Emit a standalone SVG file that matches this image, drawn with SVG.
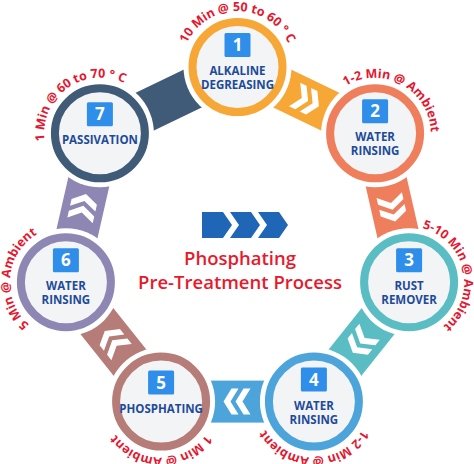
<svg xmlns="http://www.w3.org/2000/svg" width="474" height="464" viewBox="0 0 474 464">
<style>
.ring{fill:#F3F4F6;stroke-width:8}
.gap{fill:#FFFFFF}
.box{fill:#2E8EEA}
.num{font-family:"Open Sans","DejaVu Sans",sans-serif;font-weight:700;font-size:17px;fill:#FFFFFF;text-anchor:middle}
.lbl{font-family:"Open Sans","DejaVu Sans",sans-serif;font-weight:700;font-size:11.5px;fill:#1D4B9A;text-anchor:middle}
.arc{font-family:"Open Sans","DejaVu Sans",sans-serif;font-weight:700;font-size:12.5px;fill:#E5172F}
.title{font-family:"Open Sans","DejaVu Sans",sans-serif;font-weight:600;font-size:18.5px;fill:#E8192C;text-anchor:middle}
.chev{fill:#FFFFFF}
</style>
<defs>
<g id="chev">
<polygon class="chev" points="-13,-13 -6,-13 2,0 -6,13 -13,13 -5,0"/>
<polygon class="chev" points="-1,-13 6,-13 14,0 6,13 -1,13 7,0"/>
</g>
<path id="a1" d="M181.5,67 A56,56 0 0 1 293.5,67"/>
<path id="a2" d="M325.89,106.58 A56,56 0 0 1 424.31,160.02"/>
<path id="a3" d="M397.46,227.43 A56,56 0 0 1 420.74,336.97"/>
<path id="a4" d="M369.9,401.6 A56,56 0 0 1 257.9,401.6"/>
<path id="a5" d="M217.1,401.6 A56,56 0 0 1 105.1,401.6"/>
<path id="a6" d="M61.02,337.99 A56,56 0 0 1 70.78,226.41"/>
<path id="a7" d="M54.6,166.22 A56,56 0 0 1 145.2,100.38"/>
</defs>

<g id="connectors">
<g transform="translate(306.3,100.15) rotate(25.71)"><rect x="-76" y="-21" width="152" height="42" fill="#F7A736"/><use href="#chev"/></g>
<g transform="translate(392.1,207.75) rotate(77.14)"><rect x="-76" y="-21" width="152" height="42" fill="#EF7F5C"/><use href="#chev"/></g>
<g transform="translate(361.5,341.9) rotate(128.57)"><rect x="-76" y="-21" width="152" height="42" fill="#5ABDC4"/><use href="#chev"/></g>
<g transform="translate(237.5,401.6) rotate(180)"><rect x="-76" y="-21" width="152" height="42" fill="#4CA4DB"/><use href="#chev"/></g>
<g transform="translate(113.5,341.9) rotate(231.43)"><rect x="-76" y="-21" width="152" height="42" fill="#B67C77"/><use href="#chev"/></g>
<g transform="translate(82.9,207.75) rotate(-77.14)"><rect x="-76" y="-21" width="152" height="42" fill="#8E87B4"/><use href="#chev"/></g>
<g transform="translate(168.7,100.15) rotate(-25.71)"><rect x="-76" y="-21" width="152" height="42" fill="#3F5B78"/></g>
</g>

<g id="node1">
<circle class="gap" cx="237.5" cy="67" r="54"/>
<circle class="ring" cx="237.5" cy="67" r="45" stroke="#F7A736"/>
<rect class="box" x="224.5" y="33" width="26" height="24" rx="1.5"/>
<text class="num" x="237.5" y="51">1</text>
<text class="lbl" x="237.5" y="75">ALKALINE</text>
<text class="lbl" x="237.5" y="89">DEGREASING</text>
<text class="arc"><textPath href="#a1" startOffset="50%" text-anchor="middle">10 Min @ 50 to 60 ° C</textPath></text>
</g>

<g id="node2">
<circle class="gap" cx="375.1" cy="133.3" r="54"/>
<circle class="ring" cx="375.1" cy="133.3" r="45" stroke="#EF7F5C"/>
<rect class="box" x="362.1" y="99.3" width="26" height="24" rx="1.5"/>
<text class="num" x="375.1" y="117.3">2</text>
<text class="lbl" x="375.1" y="141.3">WATER</text>
<text class="lbl" x="375.1" y="155.3">RINSING</text>
<text class="arc"><textPath href="#a2" startOffset="50%" text-anchor="middle">1-2 Min @ Ambient</textPath></text>
</g>

<g id="node3">
<circle class="gap" cx="409.1" cy="282.2" r="54"/>
<circle class="ring" cx="409.1" cy="282.2" r="45" stroke="#5ABDC4"/>
<rect class="box" x="396.1" y="248.2" width="26" height="24" rx="1.5"/>
<text class="num" x="409.1" y="266.2">3</text>
<text class="lbl" x="409.1" y="290.2">RUST</text>
<text class="lbl" x="409.1" y="304.2">REMOVER</text>
<text class="arc"><textPath href="#a3" startOffset="50%" text-anchor="middle">5-10 Min @ Ambient</textPath></text>
</g>

<g id="node4">
<circle class="gap" cx="313.9" cy="401.6" r="54"/>
<circle class="ring" cx="313.9" cy="401.6" r="45" stroke="#4CA4DB"/>
<rect class="box" x="300.9" y="367.6" width="26" height="24" rx="1.5"/>
<text class="num" x="313.9" y="385.6">4</text>
<text class="lbl" x="313.9" y="409.6">WATER</text>
<text class="lbl" x="313.9" y="423.6">RINSING</text>
<text class="arc"><textPath href="#a4" startOffset="50%" text-anchor="middle">1-2 Min @ Ambient</textPath></text>
</g>

<g id="node5">
<circle class="gap" cx="161.1" cy="401.6" r="54"/>
<circle class="ring" cx="161.1" cy="401.6" r="45" stroke="#B67C77"/>
<rect class="box" x="148.1" y="370.6" width="26" height="24" rx="1.5"/>
<text class="num" x="161.1" y="388.6">5</text>
<text class="lbl" x="161.1" y="412.6">PHOSPHATING</text>
<text class="arc"><textPath href="#a5" startOffset="50%" text-anchor="middle">1 Min @ Ambient</textPath></text>
</g>

<g id="node6">
<circle class="gap" cx="65.9" cy="282.2" r="54"/>
<circle class="ring" cx="65.9" cy="282.2" r="45" stroke="#8E87B4"/>
<rect class="box" x="52.9" y="248.2" width="26" height="24" rx="1.5"/>
<text class="num" x="65.9" y="266.2">6</text>
<text class="lbl" x="65.9" y="290.2">WATER</text>
<text class="lbl" x="65.9" y="304.2">RINSING</text>
<text class="arc"><textPath href="#a6" startOffset="50%" text-anchor="middle">5 Min @ Ambient</textPath></text>
</g>

<g id="node7">
<circle class="gap" cx="99.9" cy="133.3" r="54"/>
<circle class="ring" cx="99.9" cy="133.3" r="45" stroke="#3F5B78"/>
<rect class="box" x="86.9" y="102.3" width="26" height="24" rx="1.5"/>
<text class="num" x="99.9" y="120.3">7</text>
<text class="lbl" x="99.9" y="144.3">PASSIVATION</text>
<text class="arc"><textPath href="#a7" startOffset="50%" text-anchor="middle">1 Min @ 60 to 70 ° C</textPath></text>
</g>

<g id="center">
<polygon points="202,212 223,212 232,225 223,238 202,238" fill="#1F66B7"/>
<polygon points="230,212 251,212 260,225 251,238 230,238 239,225" fill="#1F66B7"/>
<polygon points="258,212 279,212 288,225 279,238 258,238 267,225" fill="#1F66B7"/>
<text class="title" x="240" y="265">Phosphating</text>
<text class="title" x="240" y="289">Pre-Treatment Process</text>
</g>
</svg>
